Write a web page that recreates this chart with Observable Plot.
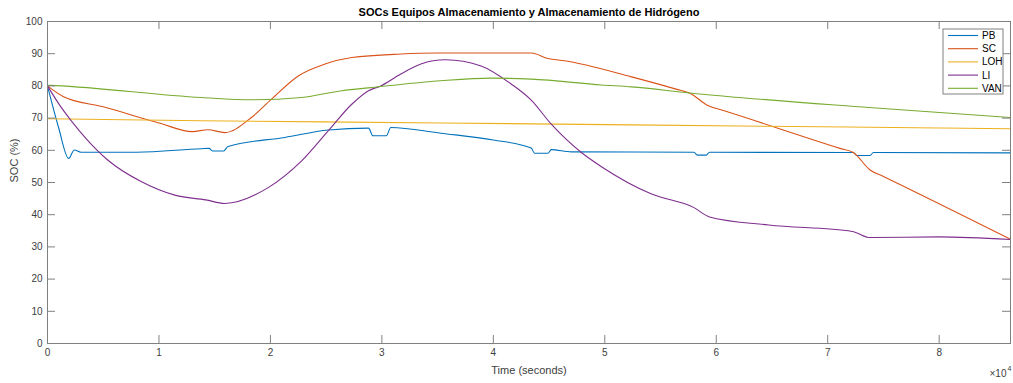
<!DOCTYPE html>
<html><head><meta charset="utf-8">
<script src="https://cdn.jsdelivr.net/npm/d3@7"></script>
<script src="https://cdn.jsdelivr.net/npm/@observablehq/plot@0.6"></script>
<style>body{margin:0;background:#fff} #chart svg{display:block}</style>
</head><body><div id="chart"></div>
<script>
const seriesNames = ["PB", "SC", "LOH", "LI", "VAN"];
const seriesColors = ["#0072BD", "#D95319", "#EDB120", "#7E2F8E", "#77AC30"];

const pbTime = [0, 1000, 1900, 2400, 3000, 8000, 13800, 14500, 14800, 15800, 16200, 21300, 25200, 28800, 29200, 30400, 30800, 35300, 40000, 43400, 43700, 44900, 45200, 47000, 58000, 58300, 59100, 59400, 72300, 72600, 73800, 74100, 86400];
const pbSoc  = [80, 67, 57.5, 60.1, 59.4, 59.4, 60.5, 60.6, 59.8, 59.8, 61.2, 64.0, 66.3, 66.9, 64.5, 64.5, 67.1, 65.3, 63.2, 60.7, 59.1, 59.1, 60.2, 59.5, 59.4, 58.5, 58.5, 59.4, 59.3, 58.4, 58.4, 59.3, 59.2];

const scTime = [0, 1400, 5000, 10000, 13000, 14400, 15900, 18300, 20100, 22500, 24900, 27300, 31700, 35000, 43400, 44900, 46400, 52400, 56400, 57600, 59300, 60500, 71100, 72300, 73800, 75000, 86400];
const scSoc  = [80, 76.7, 73.5, 68.5, 65.8, 66.4, 65.5, 70.2, 75.9, 83.1, 86.8, 88.8, 89.9, 90.2, 90.2, 88.5, 87.8, 82.8, 79.0, 77.8, 73.8, 72.5, 60.6, 59.3, 53.9, 51.9, 32.4];

const lohTime = [0, 13800, 35300, 52400, 86400];
const lohSoc  = [69.8, 69.2, 68.5, 67.9, 66.7];

const liTime = [0, 1000, 2100, 3500, 5400, 8400, 11500, 14200, 15900, 19800, 22800, 25200, 27300, 28800, 29900, 31700, 33500, 35700, 38900, 41600, 43400, 45200, 47900, 49700, 54200, 58000, 59400, 64700, 72200, 73800, 80000, 86400];
const liSoc  = [80, 74.5, 69.3, 63.5, 57, 50.3, 46, 44.6, 43.5, 48.4, 56.7, 66.1, 74.3, 78.5, 80, 83.7, 86.8, 88.1, 86.2, 80.6, 75.6, 68.1, 59.3, 54.9, 46.4, 42.2, 39.3, 36.8, 34.8, 32.9, 33.1, 32.3];

const vanTime = [0, 700, 13800, 18300, 22800, 26400, 29100, 35300, 39800, 43400, 49700, 52400, 57600, 73700, 86400];
const vanSoc  = [80.2, 80.1, 76.4, 75.7, 76.4, 78.5, 79.5, 81.6, 82.4, 82.1, 80.3, 79.7, 77.8, 73.3, 70.2];

const xTicks = [0, 10000, 20000, 30000, 40000, 50000, 60000, 70000, 80000];
const yTicks = [0, 10, 20, 30, 40, 50, 60, 70, 80, 90, 100];

const seriesData = [[pbTime, pbSoc], [scTime, scSoc], [lohTime, lohSoc], [liTime, liSoc], [vanTime, vanSoc]];
const rows = [];
seriesData.forEach(([ts, vs], i) => ts.forEach((t, j) => rows.push({series: seriesNames[i], t, soc: vs[j]})));

const W = 1013, H = 383, mL = 47, mR = 3, mT = 21, mB = 40;
const xMax = 86400;
const tickPx = 8;
const tickLenX = tickPx * xMax / (W - mL - mR);
const tickLenY = tickPx * 100 / (H - mT - mB);
const axisColor = "#808080";
const textColor = "#404040";

const plot = Plot.plot({
  width: W, height: H,
  marginLeft: mL, marginRight: mR, marginTop: mT, marginBottom: mB,
  style: {fontFamily: "'Liberation Sans', Arial, sans-serif", fontSize: "10px", color: textColor, background: "#fff"},
  x: {domain: [0, xMax]},
  y: {domain: [0, 100]},
  color: {domain: seriesNames, range: seriesColors},
  marks: [
    Plot.lineY(rows, {x: "t", y: "soc", z: "series", stroke: "series", strokeWidth: 1.1, curve: "monotone-x"}),
    Plot.frame({stroke: axisColor}),
    Plot.ruleX(xTicks, {x: d => d, y1: 0, y2: tickLenY, stroke: axisColor}),
    Plot.ruleX(xTicks, {x: d => d, y1: 100 - tickLenY, y2: 100, stroke: axisColor}),
    Plot.ruleY(yTicks, {y: d => d, x1: 0, x2: tickLenX, stroke: axisColor}),
    Plot.ruleY(yTicks, {y: d => d, x1: xMax - tickLenX, x2: xMax, stroke: axisColor}),
    Plot.axisX(xTicks, {tickSize: 0, tickPadding: 5, tickFormat: d => String(d / 1e4), label: null, fill: textColor}),
    Plot.axisY(yTicks, {tickSize: 0, tickPadding: 5, label: null, fill: textColor}),
    Plot.text(["Time (seconds)"], {frameAnchor: "bottom", dy: 27, lineAnchor: "middle", fontSize: 11, fill: textColor}),
    Plot.text(["SOC (%)"], {frameAnchor: "left", dx: -33, rotate: -90, fontSize: 11, fill: textColor}),
    Plot.text(["SOCs Equipos Almacenamiento y Almacenamiento de Hidrógeno"], {frameAnchor: "top", dy: -9, lineAnchor: "middle", fontSize: 11, fontWeight: "bold", fill: "#000"}),
    Plot.text(["×10"], {frameAnchor: "bottom-right", dx: -4, dy: 30, lineAnchor: "middle", textAnchor: "end", fontSize: 10, fill: textColor}),
    Plot.text(["4"], {frameAnchor: "bottom-right", dx: 1, dy: 25, lineAnchor: "middle", textAnchor: "end", fontSize: 7, fill: textColor})
  ]
});

// legend box (top-right, MATLAB style)
const svg = d3.select(plot);
const lg = svg.append("g").attr("font-family", "'Liberation Sans', Arial, sans-serif").attr("font-size", 10).attr("text-anchor", "start");
const lx = 943, ly = 29, lw = 60, lh = 65;
lg.append("rect").attr("x", lx).attr("y", ly).attr("width", lw).attr("height", lh).attr("fill", "#fff").attr("stroke", axisColor);
seriesNames.forEach((name, i) => {
  const yy = ly + 6.5 + i * 13.2;
  lg.append("line").attr("x1", lx + 5).attr("x2", lx + 35).attr("y1", yy).attr("y2", yy).attr("stroke", seriesColors[i]).attr("stroke-width", 1.1);
  lg.append("text").attr("x", lx + 39).attr("y", yy).attr("dy", "0.35em").attr("fill", "#000").text(name);
});

document.getElementById("chart").appendChild(plot);
</script>
</body></html>
